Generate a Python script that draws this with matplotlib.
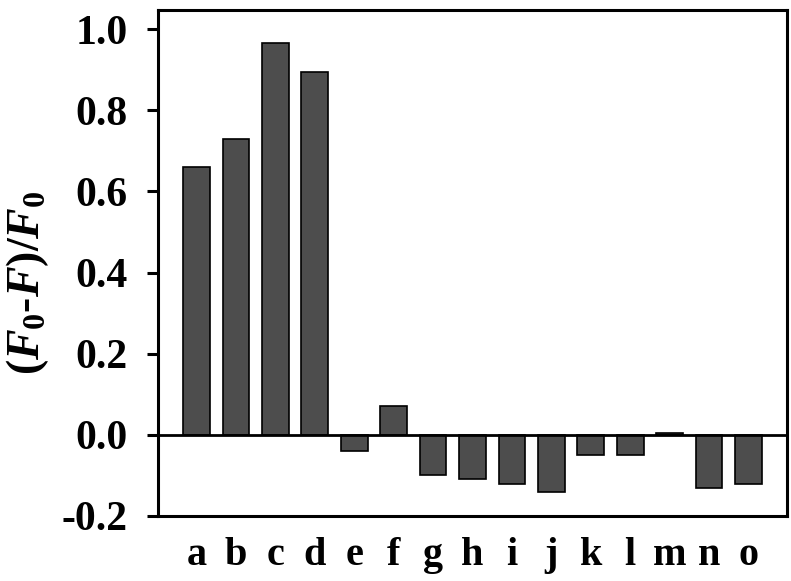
import numpy as np
import matplotlib
matplotlib.use("Agg")
import matplotlib.pyplot as plt

# Données
categories = ['a', 'b', 'c', 'd', 'e', 'f', 'g', 'h', 'i', 'j', 'k', 'l', 'm', 'n', 'o']
values = [0.66, 0.73, 0.965, 0.895, -0.04, 0.07, -0.10, -0.11, -0.12, -0.14,
          -0.05, -0.05, 0.004, -0.13, -0.12]
yticks = [-0.2, 0.0, 0.2, 0.4, 0.6, 0.8, 1.0]
ytick_labels = ['-0.2', '0.0', '0.2', '0.4', '0.6', '0.8', '1.0']

plt.rcParams['font.family'] = 'Liberation Serif'
plt.rcParams['font.weight'] = 'bold'
plt.rcParams['mathtext.fontset'] = 'custom'
plt.rcParams['mathtext.rm'] = 'Liberation Serif:bold'
plt.rcParams['mathtext.it'] = 'Liberation Serif:italic:bold'
plt.rcParams['mathtext.bf'] = 'Liberation Serif:bold'

fig = plt.figure(figsize=(7.91, 5.81), dpi=100)
ax = fig.add_axes([0.1997, 0.1119, 0.7953, 0.8709])

x = np.arange(len(categories))
ax.bar(x, values, width=0.68, color='#4d4d4d', edgecolor='black', linewidth=1.2, zorder=2)
ax.axhline(0, color='black', linewidth=2.0, zorder=3)

ax.set_xlim(-0.98, len(categories) - 1 + 0.98)
ax.set_ylim(-0.2, 1.047)
ax.set_xticks(x)
ax.set_xticklabels(categories)
ax.set_yticks(yticks)
ax.set_yticklabels(ytick_labels)

ax.tick_params(axis='x', length=0, pad=15, labelsize=29)
ax.tick_params(axis='y', direction='out', length=8, width=2.2, pad=14, labelsize=30)
for sp in ax.spines.values():
    sp.set_linewidth(2.2)

ax.set_ylabel('($F_0$-$F$)/$F_0$', fontsize=33, fontweight='bold')
ax.yaxis.set_label_coords(-0.17, 0.46)

fig.savefig('out.png', dpi=100)
